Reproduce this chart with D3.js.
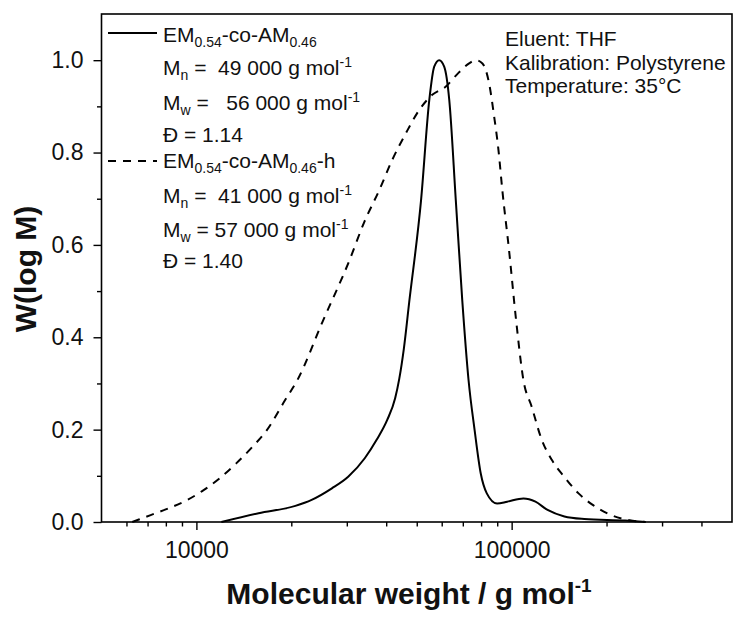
<!DOCTYPE html>
<html><head><meta charset="utf-8">
<script src="https://cdn.jsdelivr.net/npm/d3@7"></script>
<style>body{margin:0;background:#fff}</style>
</head><body><svg id="c" width="735" height="619"></svg>
<script>
// ---- data ----
const solidM = [12000, 15750, 20600, 23200, 26900, 30300, 34200, 37300, 40300, 42700, 44000, 45500, 47300, 51600, 54800, 56800, 58900, 61100, 63400, 66500, 69700, 73000, 76300, 79800, 83400, 89900, 96800, 109000, 119000, 130000, 147000, 170000, 229000, 266000];
const solidW = [0, 0.019, 0.035, 0.048, 0.073, 0.098, 0.138, 0.178, 0.221, 0.268, 0.310, 0.375, 0.475, 0.697, 0.914, 0.986, 1.0, 0.986, 0.914, 0.697, 0.481, 0.307, 0.199, 0.105, 0.062, 0.040, 0.044, 0.051, 0.044, 0.026, 0.012, 0.0065, 0.003, 0];
const dashedM = [6260, 7160, 8190, 9370, 10540, 11870, 13380, 15070, 16730, 19120, 20900, 25100, 30600, 34100, 38050, 41800, 46200, 50900, 56000, 61850, 67700, 73300, 77000, 80800, 84800, 88000, 90800, 93400, 98100, 103300, 109000, 115700, 124600, 134200, 146800, 163000, 180800, 206600, 236300, 266000];
const dashedW = [0, 0.015, 0.030, 0.048, 0.069, 0.095, 0.127, 0.163, 0.199, 0.264, 0.307, 0.433, 0.567, 0.650, 0.719, 0.784, 0.842, 0.892, 0.925, 0.943, 0.972, 0.993, 1.0, 0.993, 0.950, 0.878, 0.806, 0.719, 0.589, 0.437, 0.307, 0.250, 0.178, 0.134, 0.098, 0.062, 0.037, 0.015, 0.004, 0];
const xMajorTicks = [10000, 100000];
const xMinorTicks = [6000, 7000, 8000, 9000, 20000, 30000, 40000, 50000, 60000, 70000, 80000, 90000, 200000, 300000, 400000];
const yMajorTicks = [0, 0.2, 0.4, 0.6, 0.8, 1.0];
const yMinorTicks = [0.1, 0.3, 0.5, 0.7, 0.9];
const infoLines = ["Eluent: THF", "Kalibration: Polystyrene", "Temperature: 35°C"];
const legendRows = [
  [["EM"], ["0.54", "sub"], ["-co-AM"], ["0.46", "sub"]],
  [["M"], ["n", "sub"], [" =  49 000 g mol"], ["-1", "sup"]],
  [["M"], ["w", "sub"], [" =   56 000 g mol"], ["-1", "sup"]],
  [["Đ = 1.14"]],
  [["EM"], ["0.54", "sub"], ["-co-AM"], ["0.46", "sub"], ["-h"]],
  [["M"], ["n", "sub"], [" =  41 000 g mol"], ["-1", "sup"]],
  [["M"], ["w", "sub"], [" = 57 000 g mol"], ["-1", "sup"]],
  [["Đ = 1.40"]]
];

// ---- layout ----
const FONT = "'Liberation Sans', Arial, sans-serif";
const L = 101.5, R = 732, T = 14, B = 522;
const svg = d3.select("#c").style("font-family", FONT);
const x = d3.scaleLog().domain([5000, 500000]).range([L, R]);
const y = d3.scaleLinear().domain([0, 1.1]).range([B, T]);

// frame
svg.append("rect").attr("x", L).attr("y", T).attr("width", R - L).attr("height", B - T)
  .attr("fill", "none").attr("stroke", "#000").attr("stroke-width", 1.6);

// axes
function styleAxis(g) {
  g.select(".domain").remove();
  g.selectAll(".tick line").attr("stroke", "#000").attr("stroke-width", 1.4);
  g.selectAll(".tick text").attr("font-family", FONT).attr("font-size", 23).attr("fill", "#111");
}
svg.append("g").attr("transform", `translate(0,${B})`)
  .call(d3.axisBottom(x).tickValues(xMinorTicks).tickSize(4.5).tickFormat(""))
  .call(styleAxis);
svg.append("g").attr("transform", `translate(0,${B})`)
  .call(d3.axisBottom(x).tickValues(xMajorTicks).tickSize(8).tickPadding(12).tickFormat(d3.format("d")))
  .call(styleAxis);
svg.append("g").attr("transform", `translate(${L},0)`)
  .call(d3.axisLeft(y).tickValues(yMinorTicks).tickSize(4.5).tickFormat(""))
  .call(styleAxis);
svg.append("g").attr("transform", `translate(${L},0)`)
  .call(d3.axisLeft(y).tickValues(yMajorTicks).tickSize(8).tickPadding(10).tickFormat(d3.format(".1f")))
  .call(styleAxis);

// curves
const line = d3.line().x(d => x(d[0])).y(d => y(d[1])).curve(d3.curveMonotoneX);
svg.append("path").datum(solidM.map((m, i) => [m, solidW[i]]))
  .attr("d", line).attr("fill", "none").attr("stroke", "#000").attr("stroke-width", 2);
svg.append("path").datum(dashedM.map((m, i) => [m, dashedW[i]]))
  .attr("d", line).attr("fill", "none").attr("stroke", "#000").attr("stroke-width", 2)
  .attr("stroke-dasharray", "8,7");

// rich text helper
function rich(sel, px, py, parts, size, subSize) {
  const t = sel.append("text").attr("x", px).attr("y", py).attr("font-size", size)
    .attr("fill", "#111").style("white-space", "pre");
  let shift = 0;
  parts.forEach(p => {
    const mode = p[1];
    const target = mode === "sub" ? size * 0.25 : mode === "sup" ? -size * 0.4 : 0;
    t.append("tspan").attr("dy", target - shift).attr("font-size", mode ? subSize : size).text(p[0]);
    shift = target;
  });
  return t;
}

// legend
const legendBase = [41.5, 75, 110, 141.5, 168, 203, 237, 268];
legendRows.forEach((row, i) => rich(svg, 163, legendBase[i], row, 21, 14));
svg.append("line").attr("x1", 108).attr("x2", 157).attr("y1", 33).attr("y2", 33)
  .attr("stroke", "#000").attr("stroke-width", 2);
svg.append("line").attr("x1", 108).attr("x2", 157).attr("y1", 161).attr("y2", 161)
  .attr("stroke", "#000").attr("stroke-width", 2).attr("stroke-dasharray", "8,7");

// info text
infoLines.forEach((s, i) => svg.append("text").attr("x", 505).attr("y", 46 + i * 23.5)
  .attr("font-size", 21).attr("fill", "#111").text(s));

// axis titles
const xt = rich(svg, 409, 604, [["Molecular weight / g mol"], ["-1", "sup"]], 30, 19);
xt.attr("text-anchor", "middle").attr("font-weight", "bold");
svg.append("text").attr("transform", "translate(36,269) rotate(-90)")
  .attr("text-anchor", "middle").attr("font-weight", "bold").attr("font-size", 30)
  .attr("fill", "#111").text("W(log M)");
</script></body></html>
